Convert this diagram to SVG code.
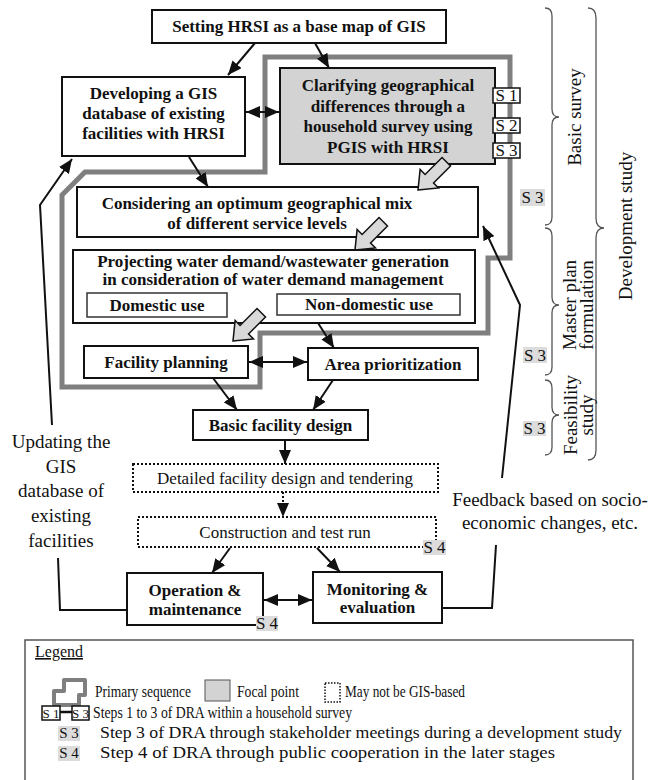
<svg xmlns="http://www.w3.org/2000/svg" width="652" height="780" viewBox="0 0 652 780">
<style>
text { font-family: "Liberation Serif", "Times New Roman", serif; fill: #111; }
.b { font-weight: bold; font-size: 17px; text-anchor: middle; }
.r { font-size: 19px; text-anchor: middle; }
.s { font-size: 17px; text-anchor: middle; }
.lg { font-size: 16px; }
.box { fill: #fff; stroke: #111; stroke-width: 2; }
.focal { fill: #d3d3d3; stroke: #111; stroke-width: 2; }
.dot { fill: #fff; stroke: #111; stroke-width: 2; stroke-dasharray: 2 2; }
.sub { fill: #fff; stroke: #333; stroke-width: 1.5; }
.sb { fill: #fff; stroke: #111; stroke-width: 1.5; }
.gl { fill: #dcdcdc; stroke: none; }
.ln { fill: none; stroke: #111; stroke-width: 2; }
.brace { fill: none; stroke: #555; stroke-width: 1.3; }
.prim { fill: none; stroke: #7f7f7f; stroke-width: 5; }
.blk { fill: #d9d9d9; stroke: #111; stroke-width: 1.5; stroke-linejoin: miter; }
</style>
<defs>
<marker id="ah" viewBox="0 0 14 12" refX="14" refY="6" markerWidth="14" markerHeight="12" markerUnits="userSpaceOnUse" orient="auto-start-reverse">
<path d="M0,0 L14,6 L0,12 Z" fill="#111"/>
</marker>
<path id="barrow" d="M0,0 L-16,-13 L-16,-6 L-40,-6 L-40,6 L-16,6 L-16,13 Z"/>
</defs>

<g id="primary-sequence">
<path class="prim" d="M265,57 H510 V258 H488 V333 H260 V387 H62 V195 L85,172 H265 Z"/>
</g>

<g id="n-setting">
<rect class="box" x="152" y="10" width="294" height="33"/>
<text class="b" x="299" y="32">Setting HRSI as a base map of GIS</text>
</g>

<g id="n-developing">
<rect class="box" x="62" y="77" width="183" height="79"/>
<text class="b" x="153.5" y="99">Developing a GIS</text>
<text class="b" x="153.5" y="119">database of existing</text>
<text class="b" x="153.5" y="139">facilities with HRSI</text>
</g>

<g id="n-clarifying">
<rect class="focal" x="280" y="68" width="215" height="96"/>
<text class="b" x="388" y="91">Clarifying geographical</text>
<text class="b" x="388" y="111.5">differences through a</text>
<text class="b" x="388" y="132">household survey using</text>
<text class="b" x="388" y="152.5">PGIS with HRSI</text>
<rect class="sb" x="493" y="88" width="27" height="15"/>
<text class="s" x="506.5" y="101">S 1</text>
<rect class="sb" x="493" y="118" width="27" height="15"/>
<text class="s" x="506.5" y="131">S 2</text>
<rect class="sb" x="493" y="143" width="27" height="15"/>
<text class="s" x="506.5" y="156">S 3</text>
</g>

<g id="n-considering">
<rect class="box" x="77" y="187" width="401" height="50"/>
<text class="b" x="257" y="209">Considering an optimum geographical mix</text>
<text class="b" x="257" y="229">of different service levels</text>
</g>

<g id="n-projecting">
<rect class="box" x="73" y="250" width="402" height="73"/>
<text class="b" x="273" y="267">Projecting water demand/wastewater generation</text>
<text class="b" x="273" y="285">in consideration of water demand management</text>
<rect class="sub" x="87" y="293" width="140" height="24"/>
<text class="b" x="157" y="311">Domestic use</text>
<rect class="sub" x="277" y="294" width="183" height="21"/>
<text class="b" x="369" y="310">Non-domestic use</text>
</g>

<g id="n-facility">
<rect class="box" x="84" y="346" width="164" height="32"/>
<text class="b" x="166" y="368">Facility planning</text>
</g>

<g id="n-area">
<rect class="box" x="308" y="348" width="170" height="32"/>
<text class="b" x="393" y="370">Area prioritization</text>
</g>

<g id="n-basic">
<rect class="box" x="193" y="410" width="175" height="30"/>
<text class="b" x="280.5" y="431">Basic facility design</text>
</g>

<g id="n-detailed">
<rect class="dot" x="133" y="464" width="305" height="28"/>
<text class="s" x="285" y="484">Detailed facility design and tendering</text>
</g>

<g id="n-construction">
<rect class="dot" x="138" y="517" width="298" height="30"/>
<text class="s" x="285" y="538">Construction and test run</text>
<rect class="gl" x="423" y="540" width="23" height="15"/>
<text class="s" x="434.5" y="553">S 4</text>
</g>

<g id="n-operation">
<rect class="box" x="127" y="573" width="136" height="52"/>
<text class="b" x="195" y="596">Operation &amp;</text>
<text class="b" x="195" y="615">maintenance</text>
<rect class="gl" x="256" y="616" width="22" height="15"/>
<text class="s" x="267" y="629">S 4</text>
</g>

<g id="n-monitoring">
<rect class="box" x="313" y="572" width="129" height="51"/>
<text class="b" x="377.5" y="595">Monitoring &amp;</text>
<text class="b" x="377.5" y="613">evaluation</text>
</g>

<g id="block-arrows">
<use href="#barrow" class="blk" transform="translate(418,190) rotate(135)"/>
<use href="#barrow" class="blk" transform="translate(355,250) rotate(135)"/>
<use href="#barrow" class="blk" transform="translate(233,341) rotate(135)"/>
</g>

<g id="connectors">
<path class="ln" d="M255,43 L228,75" marker-end="url(#ah)"/>
<path class="ln" d="M315,43 L329,68" marker-end="url(#ah)"/>
<path class="ln" d="M246,112 L279,112" marker-start="url(#ah)" marker-end="url(#ah)"/>
<path class="ln" d="M189,157 L208,187" marker-end="url(#ah)"/>
<path class="ln" d="M318,323 L334,348" marker-end="url(#ah)"/>
<path class="ln" d="M249,362 L307,362" marker-start="url(#ah)" marker-end="url(#ah)"/>
<path class="ln" d="M213,378 L237,410" marker-end="url(#ah)"/>
<path class="ln" d="M333,380 L313,410" marker-end="url(#ah)"/>
<path class="ln" d="M285,440 L285,464" marker-end="url(#ah)"/>
<path class="ln" d="M283,492 L283,517" stroke-dasharray="2 2" marker-end="url(#ah)"/>
<path class="ln" d="M230,548 L212,573" marker-end="url(#ah)"/>
<path class="ln" d="M317,548 L340,572" marker-end="url(#ah)"/>
<path class="ln" d="M264,600 L312,600" marker-start="url(#ah)" marker-end="url(#ah)"/>
<path class="ln" d="M127,610 L60,610 L58,558"/>
<path class="ln" d="M52,425 L40,205 L72,159" marker-end="url(#ah)"/>
<path class="ln" d="M442,608 L492,608 L496,545"/>
<path class="ln" d="M502,478 L520,305 L483,226" marker-end="url(#ah)"/>
</g>

<g id="side-labels">
<text class="r" x="61" y="448">Updating the</text>
<text class="r" x="61" y="473">GIS</text>
<text class="r" x="61" y="497">database of</text>
<text class="r" x="61" y="522">existing</text>
<text class="r" x="61" y="547">facilities</text>
<text class="r" x="550" y="506">Feedback based on socio-</text>
<text class="r" x="550" y="529">economic changes, etc.</text>
</g>

<g id="s3-labels">
<rect class="gl" x="520" y="189" width="25" height="17"/>
<text class="s" x="532.5" y="203">S 3</text>
<rect class="gl" x="523" y="347" width="24" height="16"/>
<text class="s" x="535" y="361">S 3</text>
<rect class="gl" x="523" y="421" width="23" height="15"/>
<text class="s" x="534.5" y="434">S 3</text>
</g>

<g id="braces">
<path class="brace" d="M545,8 Q552,8 552,16 L552,109 Q552,117 559,117 Q552,117 552,125 L552,217 Q552,225 545,225"/>
<path class="brace" d="M545,228 Q552,228 552,236 L552,297 Q552,305 559,305 Q552,305 552,313 L552,367 Q552,375 545,375"/>
<path class="brace" d="M545,380 Q552,380 552,388 L552,407 Q552,415 559,415 Q552,415 552,423 L552,447 Q552,455 545,455"/>
<path class="brace" d="M588,8 Q596,8 596,18 L596,218 Q596,228 604,228 Q596,228 596,238 L596,450 Q596,460 588,460"/>
<text class="r" transform="translate(581,117) rotate(-90)">Basic survey</text>
<text class="r" transform="translate(576,305) rotate(-90)">Master plan</text>
<text class="r" transform="translate(593,305) rotate(-90)">formulation</text>
<text class="r" transform="translate(577,415) rotate(-90)">Feasibility</text>
<text class="r" transform="translate(593,415) rotate(-90)">study</text>
<text class="r" transform="translate(632,226) rotate(-90)">Development study</text>
</g>

<g id="legend">
<rect x="25" y="640" width="608" height="150" fill="#fff" stroke="#555" stroke-width="1.5"/>
<text x="35" y="657" font-size="16" text-decoration="underline">Legend</text>
<path d="M64,680 H85 V695 H79 V705 H54 V691 H64 Z" fill="none" stroke="#7f7f7f" stroke-width="4" stroke-linejoin="round"/>
<text class="lg" x="95" y="697" textLength="96" lengthAdjust="spacingAndGlyphs">Primary sequence</text>
<rect x="205" y="680" width="25" height="21" fill="#d3d3d3" stroke="#555" stroke-width="1"/>
<text class="lg" x="237" y="697" textLength="62" lengthAdjust="spacingAndGlyphs">Focal point</text>
<rect x="325" y="683" width="15" height="19" fill="#fff" stroke="#111" stroke-width="1.5" stroke-dasharray="1.5 1.5"/>
<text class="lg" x="345" y="697" textLength="120" lengthAdjust="spacingAndGlyphs">May not be GIS-based</text>
<rect class="sb" x="42" y="706" width="18" height="14"/>
<text x="51" y="718" font-size="13" text-anchor="middle">S 1</text>
<line x1="60" y1="712" x2="72" y2="712" stroke="#111" stroke-width="2.5"/>
<rect class="sb" x="72" y="706" width="17" height="14"/>
<text x="80.5" y="718" font-size="13" text-anchor="middle">S 3</text>
<text class="lg" x="93" y="718" textLength="259" lengthAdjust="spacingAndGlyphs">Steps 1 to 3 of DRA within a household survey</text>
<rect class="gl" x="58" y="726" width="22" height="15"/>
<text x="69" y="738" font-size="15" text-anchor="middle">S 3</text>
<text class="lg" x="100" y="738" textLength="522" lengthAdjust="spacingAndGlyphs">Step 3 of DRA through stakeholder meetings during a development study</text>
<rect class="gl" x="58" y="746" width="22" height="15"/>
<text x="69" y="758" font-size="15" text-anchor="middle">S 4</text>
<text class="lg" x="100" y="758" textLength="455" lengthAdjust="spacingAndGlyphs">Step 4 of DRA through public cooperation in the later stages</text>
</g>
</svg>
